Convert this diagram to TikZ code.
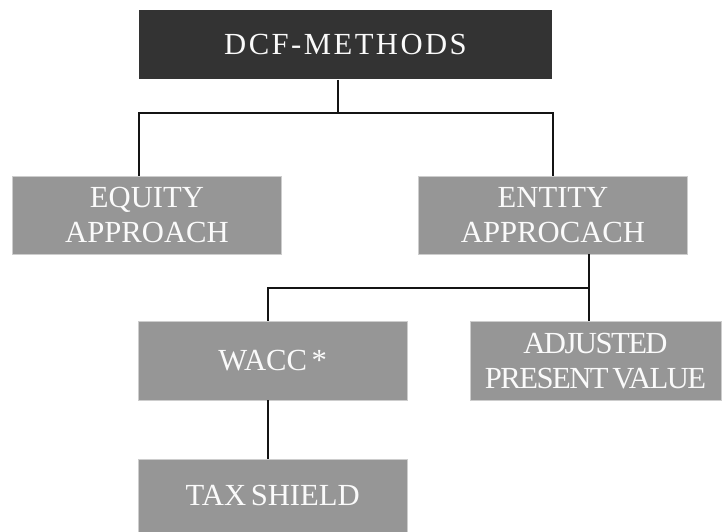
\documentclass[tikz,border=0pt]{standalone}
\usepackage{fontspec}
\setmainfont{Liberation Serif}
\newfontfamily\boxfont{Liberation Serif}[WordSpace=0.6]
\newfontfamily\apvfont{Liberation Serif}[WordSpace=0.6,LetterSpace=-5]
\newfontfamily\topfont{Liberation Serif}[LetterSpace=8]
\usepackage{tikz}

\definecolor{boxdark}{RGB}{51,51,51}
\definecolor{boxgrey}{RGB}{150,150,150}
\definecolor{boxtext}{RGB}{250,250,250}

\begin{document}
\begin{tikzpicture}[x=0.75pt,y=0.75pt,yscale=-1,xscale=1,
  darkbox/.style={fill=boxdark,text=boxtext,inner sep=0pt,align=center,
    font=\topfont\fontsize{23}{26}\selectfont},
  greybox/.style={fill=boxgrey,draw={rgb,255:red,205;green,205;blue,205},line width=0.5pt,
    text=boxtext,inner sep=0pt,align=center,font=\boxfont\fontsize{23}{26.5}\selectfont},
  link/.style={draw={rgb,255:red,20;green,20;blue,20},line width=1.3pt}]
                  \useasboundingbox (0,0) rectangle (726,532);
                  % Top Node
                  \node [darkbox,minimum width=309.75pt,minimum height=52.1pt] (dcf) at (345.5,44.75) {DCF-METHODS};
                  % Approach Nodes
                  \node [greybox,minimum width=201.75pt,minimum height=58.5pt] (equity) at (147,215) {EQUITY\\APPROACH};
                  \node [greybox,minimum width=201.75pt,minimum height=58.5pt] (entity) at (553,215) {ENTITY\\APPROCACH};
                  % Entity Nodes
                  \node [greybox,minimum width=201.4pt,minimum height=58.9pt] (wacc) at (272.75,360.75) {WACC *};
                  \node [greybox,minimum width=188.25pt,minimum height=58.9pt,
                    font=\apvfont\fontsize{23}{26.5}\selectfont] (apv) at (595.5,360.75) {ADJUSTED\\PRESENT VALUE};
                  \node [greybox,minimum width=201.4pt,minimum height=54.75pt] (tax) at (272.75,495.5) {TAX SHIELD};
                  % Branch Points
                  \coordinate (split1) at (338,112.7);
                  \coordinate (split2) at (588.7,287.7);
                  \coordinate (split3) at (268,287.7);
                  % Connection
                  \draw [link] (dcf.south -| split1) -- (split1);
                  \draw [link] (equity.north -| dcf.west) |- (split1) -| (entity.north);
                  % Connection
                  \draw [link] (entity.south -| split2) -- (apv.north -| split2);
                  \draw [link] (split2) -- (split3) -- (wacc.north -| split3);
                  % Connection
                  \draw [link] (wacc.south -| split3) -- (tax.north -| split3);
              \end{tikzpicture}
\end{document}
